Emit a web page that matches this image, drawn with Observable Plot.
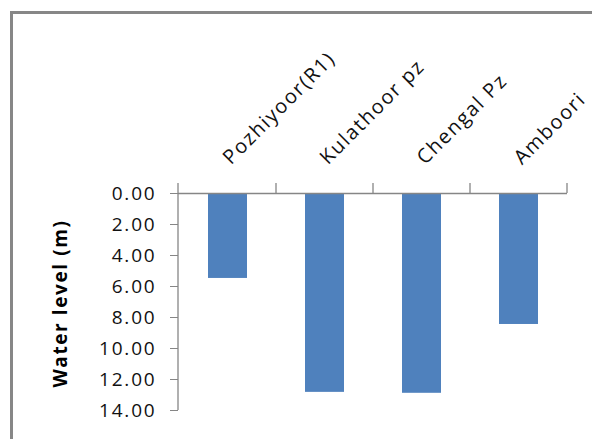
<!DOCTYPE html>
<html>
<head>
<meta charset="utf-8">
<script src="https://cdn.jsdelivr.net/npm/d3@7"></script>
<script src="https://cdn.jsdelivr.net/npm/@observablehq/plot@0.6"></script>
<style>
  body { margin: 0; background: #fff; }
  #wrap { position: relative; width: 592px; height: 439px; overflow: hidden; }
  #border { position: absolute; left: 10px; top: 11px; width: 700px; height: 600px;
            border-left: 3px solid #878787; border-top: 3px solid #878787; }
  #chart { position: absolute; left: 0; top: 0; }
</style>
</head>
<body>
<div id="wrap"><div id="border"></div><div id="chart"></div></div>
<script>
// Depth to water level at each well site (m below ground)
const sites = ["Pozhiyoor(R1)", "Kulathoor pz", "Chengal Pz", "Amboori"];
const levels = [5.48, 12.83, 12.89, 8.45];
const yTicks = [0, 2, 4, 6, 8, 10, 12, 14];
const yTitle = "Water level (m)";

const data = sites.map((site, i) => ({site, level: levels[i]}));
const axisColor = "#868686";
const font = "'Open Sans', sans-serif";

const chart = Plot.plot({
  width: 592,
  height: 439,
  marginLeft: 178,
  marginRight: 25,
  marginTop: 193,
  marginBottom: 29,
  style: {fontFamily: font, fontSize: "19px", color: "#111", background: "transparent"},
  x: {domain: sites, paddingInner: 0.6, paddingOuter: 0.3, axis: null},
  y: {domain: [0, 14], reverse: true, axis: null},
  marks: [
    Plot.barY(data, {x: "site", y: "level", fill: "#4f81bd"}),
    Plot.ruleY([0], {stroke: axisColor, strokeWidth: 1.3}),
    Plot.axisY({ticks: yTicks, tickFormat: d3.format(".2f"), tickSize: 8, tickPadding: 14,
                stroke: axisColor, fill: "#111", fontSize: 19, label: null, className: "ytick"}),
    Plot.text(data, {x: "site", frameAnchor: "top", text: "site", rotate: -45,
                     textAnchor: "start", lineAnchor: "bottom", dy: -28, dx: 3,
                     fill: "#111", fontSize: 20, className: "xlab"})
  ]
});

// Excel-style axis line and category dividers, placed from the plot's scales
const svg = d3.select(chart);
const xs = chart.scale("x"), ys = chart.scale("y");
const y0 = ys.apply(0), yMax = ys.apply(yTicks[yTicks.length - 1]);
const bounds = [xs.range[0], ...sites.map(s => xs.apply(s) + xs.bandwidth / 2 + xs.step / 2)];
const g = svg.append("g").attr("stroke", axisColor).attr("stroke-width", 1.3);
g.append("line").attr("x1", bounds[0]).attr("x2", bounds[0]).attr("y1", y0).attr("y2", yMax);
bounds.forEach(b => g.append("line").attr("x1", b).attr("x2", b).attr("y1", y0 - 10).attr("y2", y0));

// Axis title
svg.append("text")
  .attr("transform", `translate(${62},${(y0 + yMax) / 2 + 2}) rotate(-90)`)
  .attr("text-anchor", "middle")
  .attr("dominant-baseline", "middle")
  .attr("font-weight", "bold")
  .attr("font-size", 19)
  .attr("letter-spacing", 1.6)
  .attr("fill", "#000")
  .text(yTitle);

svg.selectAll(".ytick text").attr("letter-spacing", 1.8);
svg.selectAll(".xlab text").attr("letter-spacing", 1.6);

document.getElementById("chart").append(chart);
</script>
</body>
</html>
